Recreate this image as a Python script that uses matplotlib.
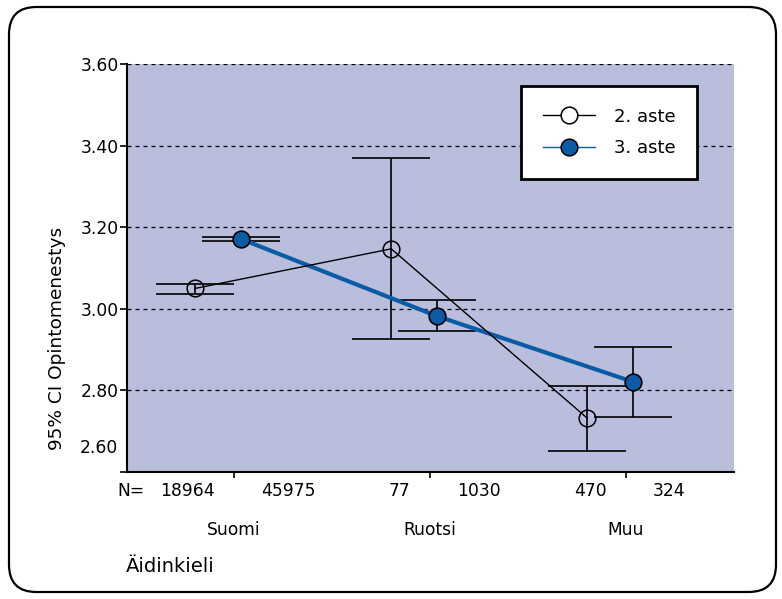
import matplotlib
matplotlib.use("Agg")
import matplotlib.pyplot as plt
import matplotlib.transforms as mtransforms
from matplotlib.patches import FancyBboxPatch
from matplotlib.lines import Line2D
import numpy as np

# ----------------------------
# DATA
# ----------------------------
categories = ["Suomi", "Ruotsi", "Muu"]
n_2aste = [18964, 77, 470]
n_3aste = [45975, 1030, 324]

mean_2aste = [3.050, 3.147, 2.732]
low_2aste = [3.037, 2.926, 2.651]
high_2aste = [3.062, 3.370, 2.811]

mean_3aste = [3.171, 2.982, 2.821]
low_3aste = [3.166, 2.946, 2.735]
high_3aste = [3.176, 3.022, 2.906]

y_ticks = [2.6, 2.8, 3.0, 3.2, 3.4, 3.6]
y_ticklabels = ["", "2.80", "3.00", "3.20", "3.40", "3.60"]

# ----------------------------
# STYLE
# ----------------------------
plt.rcParams["font.family"] = ["DejaVu Sans"]
BG = "#b9bedc"
BLUE = "#0b5ca4"
FS = 12.3

fig = plt.figure(figsize=(7.82, 5.99), dpi=100)
ax = fig.add_axes([127 / 782, 1 - 472 / 599, 607 / 782, 408 / 599])
ax.set_facecolor(BG)

x = np.arange(len(categories))
off_2 = -0.198
off_3 = 0.036
cap = 0.2

# dashed reference lines
for yv in y_ticks:
    ax.axhline(yv, color="black", linestyle=(0, (3.2, 3.2)), linewidth=0.9, zorder=1)

# error bars
for xs, lo, hi in [(x + off_2, low_2aste, high_2aste), (x + off_3, low_3aste, high_3aste)]:
    ax.vlines(xs, lo, hi, color="black", linewidth=1.2, zorder=3)
    ax.hlines(lo, xs - cap, xs + cap, color="black", linewidth=1.2, zorder=3)
    ax.hlines(hi, xs - cap, xs + cap, color="black", linewidth=1.2, zorder=3)

# lines + markers
ax.plot(x + off_3, mean_3aste, color=BLUE, linewidth=3.0, zorder=4)
ax.plot(x + off_2, mean_2aste, color="black", linewidth=1.0, zorder=4)
ax.plot(x + off_3, mean_3aste, linestyle="none", marker="o", markersize=12,
        markerfacecolor=BLUE, markeredgecolor="black", markeredgewidth=1.2, zorder=5)
ax.plot(x + off_2, mean_2aste, linestyle="none", marker="o", markersize=12,
        markerfacecolor="none", markeredgecolor="black", markeredgewidth=1.1, zorder=5)

ax.set_xlim(-0.546, 2.551)
ax.set_ylim(2.6, 3.6)

ax.set_yticks(y_ticks)
ax.set_yticklabels(y_ticklabels, fontsize=FS)
ax.set_xticks(x)
ax.set_xticklabels([])
ax.tick_params(axis="y", length=5, width=1.2, pad=1)
ax.tick_params(axis="x", length=4, width=1.2)

for side in ["top", "right"]:
    ax.spines[side].set_visible(False)
ax.spines["left"].set_linewidth(1.5)
ax.spines["bottom"].set_linewidth(1.5)

# 2.60 label sits a bit above its tick, as in the original
ax.text(-0.015, 2.66, "2.60", transform=mtransforms.blended_transform_factory(ax.transAxes, ax.transData),
        ha="right", va="center", fontsize=FS)

# N row and category labels
xt = ax.get_xaxis_transform()
ax.text(-0.0165, -0.047, "N=", transform=ax.transAxes, ha="left", va="center", fontsize=FS)
for i in range(len(categories)):
    ax.text(x[i] - 0.098, -0.047, str(n_2aste[i]), transform=xt, ha="right", va="center", fontsize=FS)
    ax.text(x[i] + 0.138, -0.047, str(n_3aste[i]), transform=xt, ha="left", va="center", fontsize=FS)
    ax.text(x[i], -0.142, categories[i], transform=xt, ha="center", va="center", fontsize=FS)

ax.text(-0.0016, -0.232, "Äidinkieli", transform=ax.transAxes, ha="left", va="center", fontsize=14)

fig.text(57 / 782, 1 - 338 / 599, "95% CI Opintomenestys", rotation=90,
         ha="center", va="center", fontsize=13.3)

# legend
handles = [
    Line2D([], [], color="black", linewidth=1.0, marker="o", markersize=12,
           markerfacecolor="white", markeredgecolor="black", markeredgewidth=1.1),
    Line2D([], [], color=BLUE, linewidth=1.0, marker="o", markersize=12,
           markerfacecolor=BLUE, markeredgecolor="black", markeredgewidth=1.1),
]
leg = ax.legend(handles, ["2. aste", "3. aste"], loc="upper left",
                bbox_to_anchor=((521 - 127) / 607, (472 - 86) / 408),
                frameon=True, fancybox=False, framealpha=1, edgecolor="black",
                fontsize=13, handlelength=2.9, handletextpad=1.05,
                borderpad=1.2, labelspacing=0.75, borderaxespad=0)
leg.get_frame().set_linewidth(2)
leg.set_zorder(10)

# rounded outer border
border = FancyBboxPatch((9 / 782, 7 / 599), 767 / 782, 585 / 599,
                        boxstyle="round,pad=0,rounding_size=0.035",
                        transform=fig.transFigure, fill=False,
                        edgecolor="black", linewidth=1.6, mutation_aspect=782 / 599)
fig.patches.append(border)

fig.savefig("out.png", dpi=100)
